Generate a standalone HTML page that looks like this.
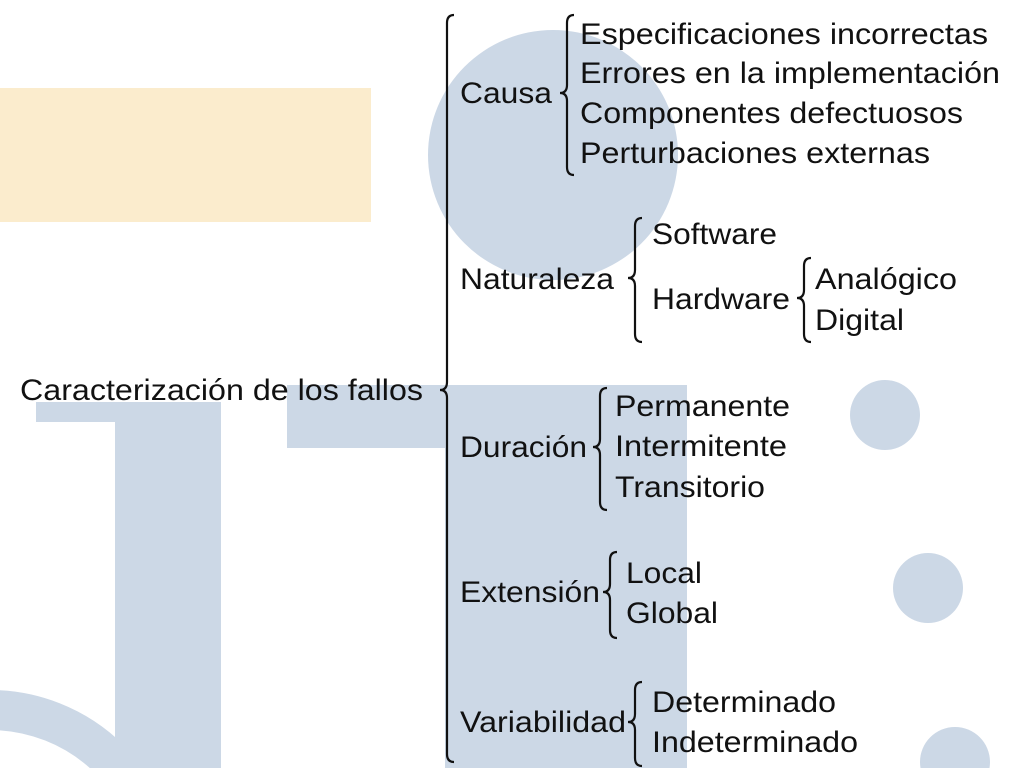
<!DOCTYPE html>
<html><head><meta charset="utf-8"><style>
html,body{margin:0;padding:0;background:#fff;width:1024px;height:768px;overflow:hidden}
svg{display:block}
svg text{font-family:"Liberation Sans",Arial,sans-serif;font-size:30px;fill:#111}
</style></head><body>
<svg id="s" width="1024" height="768" viewBox="0 0 1024 768" xmlns="http://www.w3.org/2000/svg" overflow="hidden">
<rect x="0" y="88" width="371" height="134" fill="#fbeccd"/>
<circle cx="553" cy="155" r="125" fill="#ccd8e6"/>
<g fill="#ccd8e6">
<rect x="36" y="402" width="185" height="20"/>
<rect x="115" y="402" width="106" height="366"/>
<rect x="287" y="385" width="400" height="63"/>
<rect x="445" y="385" width="242" height="383"/>
<circle cx="885" cy="415" r="35"/>
<circle cx="928" cy="588" r="35"/>
<circle cx="955" cy="762" r="35"/>
</g>
<circle cx="-10" cy="880" r="170" fill="none" stroke="#ccd8e6" stroke-width="40"/>
<g id="br" fill="none" stroke="#111" stroke-width="2.2"></g>
<text x="20" y="400" textLength="403" lengthAdjust="spacingAndGlyphs">Caracterización de los fallos</text>
<text x="460" y="103" textLength="92" lengthAdjust="spacingAndGlyphs">Causa</text>
<text x="580" y="44" textLength="408" lengthAdjust="spacingAndGlyphs">Especificaciones incorrectas</text>
<text x="580" y="83" textLength="420" lengthAdjust="spacingAndGlyphs">Errores en la implementación</text>
<text x="580" y="123" textLength="383" lengthAdjust="spacingAndGlyphs">Componentes defectuosos</text>
<text x="580" y="163" textLength="350" lengthAdjust="spacingAndGlyphs">Perturbaciones externas</text>
<text x="460" y="289" textLength="154" lengthAdjust="spacingAndGlyphs">Naturaleza</text>
<text x="652" y="244" textLength="125" lengthAdjust="spacingAndGlyphs">Software</text>
<text x="652" y="309" textLength="138" lengthAdjust="spacingAndGlyphs">Hardware</text>
<text x="815" y="289" textLength="142" lengthAdjust="spacingAndGlyphs">Analógico</text>
<text x="815" y="330" textLength="89" lengthAdjust="spacingAndGlyphs">Digital</text>
<text x="460" y="457" textLength="127" lengthAdjust="spacingAndGlyphs">Duración</text>
<text x="615" y="416" textLength="175" lengthAdjust="spacingAndGlyphs">Permanente</text>
<text x="615" y="456" textLength="172" lengthAdjust="spacingAndGlyphs">Intermitente</text>
<text x="615" y="497" textLength="150" lengthAdjust="spacingAndGlyphs">Transitorio</text>
<text x="460" y="602" textLength="140" lengthAdjust="spacingAndGlyphs">Extensión</text>
<text x="626" y="583" textLength="76" lengthAdjust="spacingAndGlyphs">Local</text>
<text x="626" y="623" textLength="92" lengthAdjust="spacingAndGlyphs">Global</text>
<text x="460" y="732" textLength="166" lengthAdjust="spacingAndGlyphs">Variabilidad</text>
<text x="652" y="712" textLength="184" lengthAdjust="spacingAndGlyphs">Determinado</text>
<text x="652" y="752" textLength="206" lengthAdjust="spacingAndGlyphs">Indeterminado</text>
</svg>
<script>
var g=document.getElementById('br');
function brace(x,y1,y2,m){
  var b=x+7,e=x+14,r=8;
  var d='M'+e+' '+y1+' Q'+b+' '+y1+' '+b+' '+(y1+r)+' L'+b+' '+(m-r)+' Q'+b+' '+m+' '+x+' '+m+
        ' Q'+b+' '+m+' '+b+' '+(m+r)+' L'+b+' '+(y2-r)+' Q'+b+' '+y2+' '+e+' '+y2;
  var p=document.createElementNS('http://www.w3.org/2000/svg','path');
  p.setAttribute('d',d);g.appendChild(p);
}
brace(440,15,762,390);
brace(560,15,175,93);
brace(628,218,342,278);
brace(797,258,342,298);
brace(593,388,510,447);
brace(603,552,638,592);
brace(628,682,766,722);
</script>
</body></html>
